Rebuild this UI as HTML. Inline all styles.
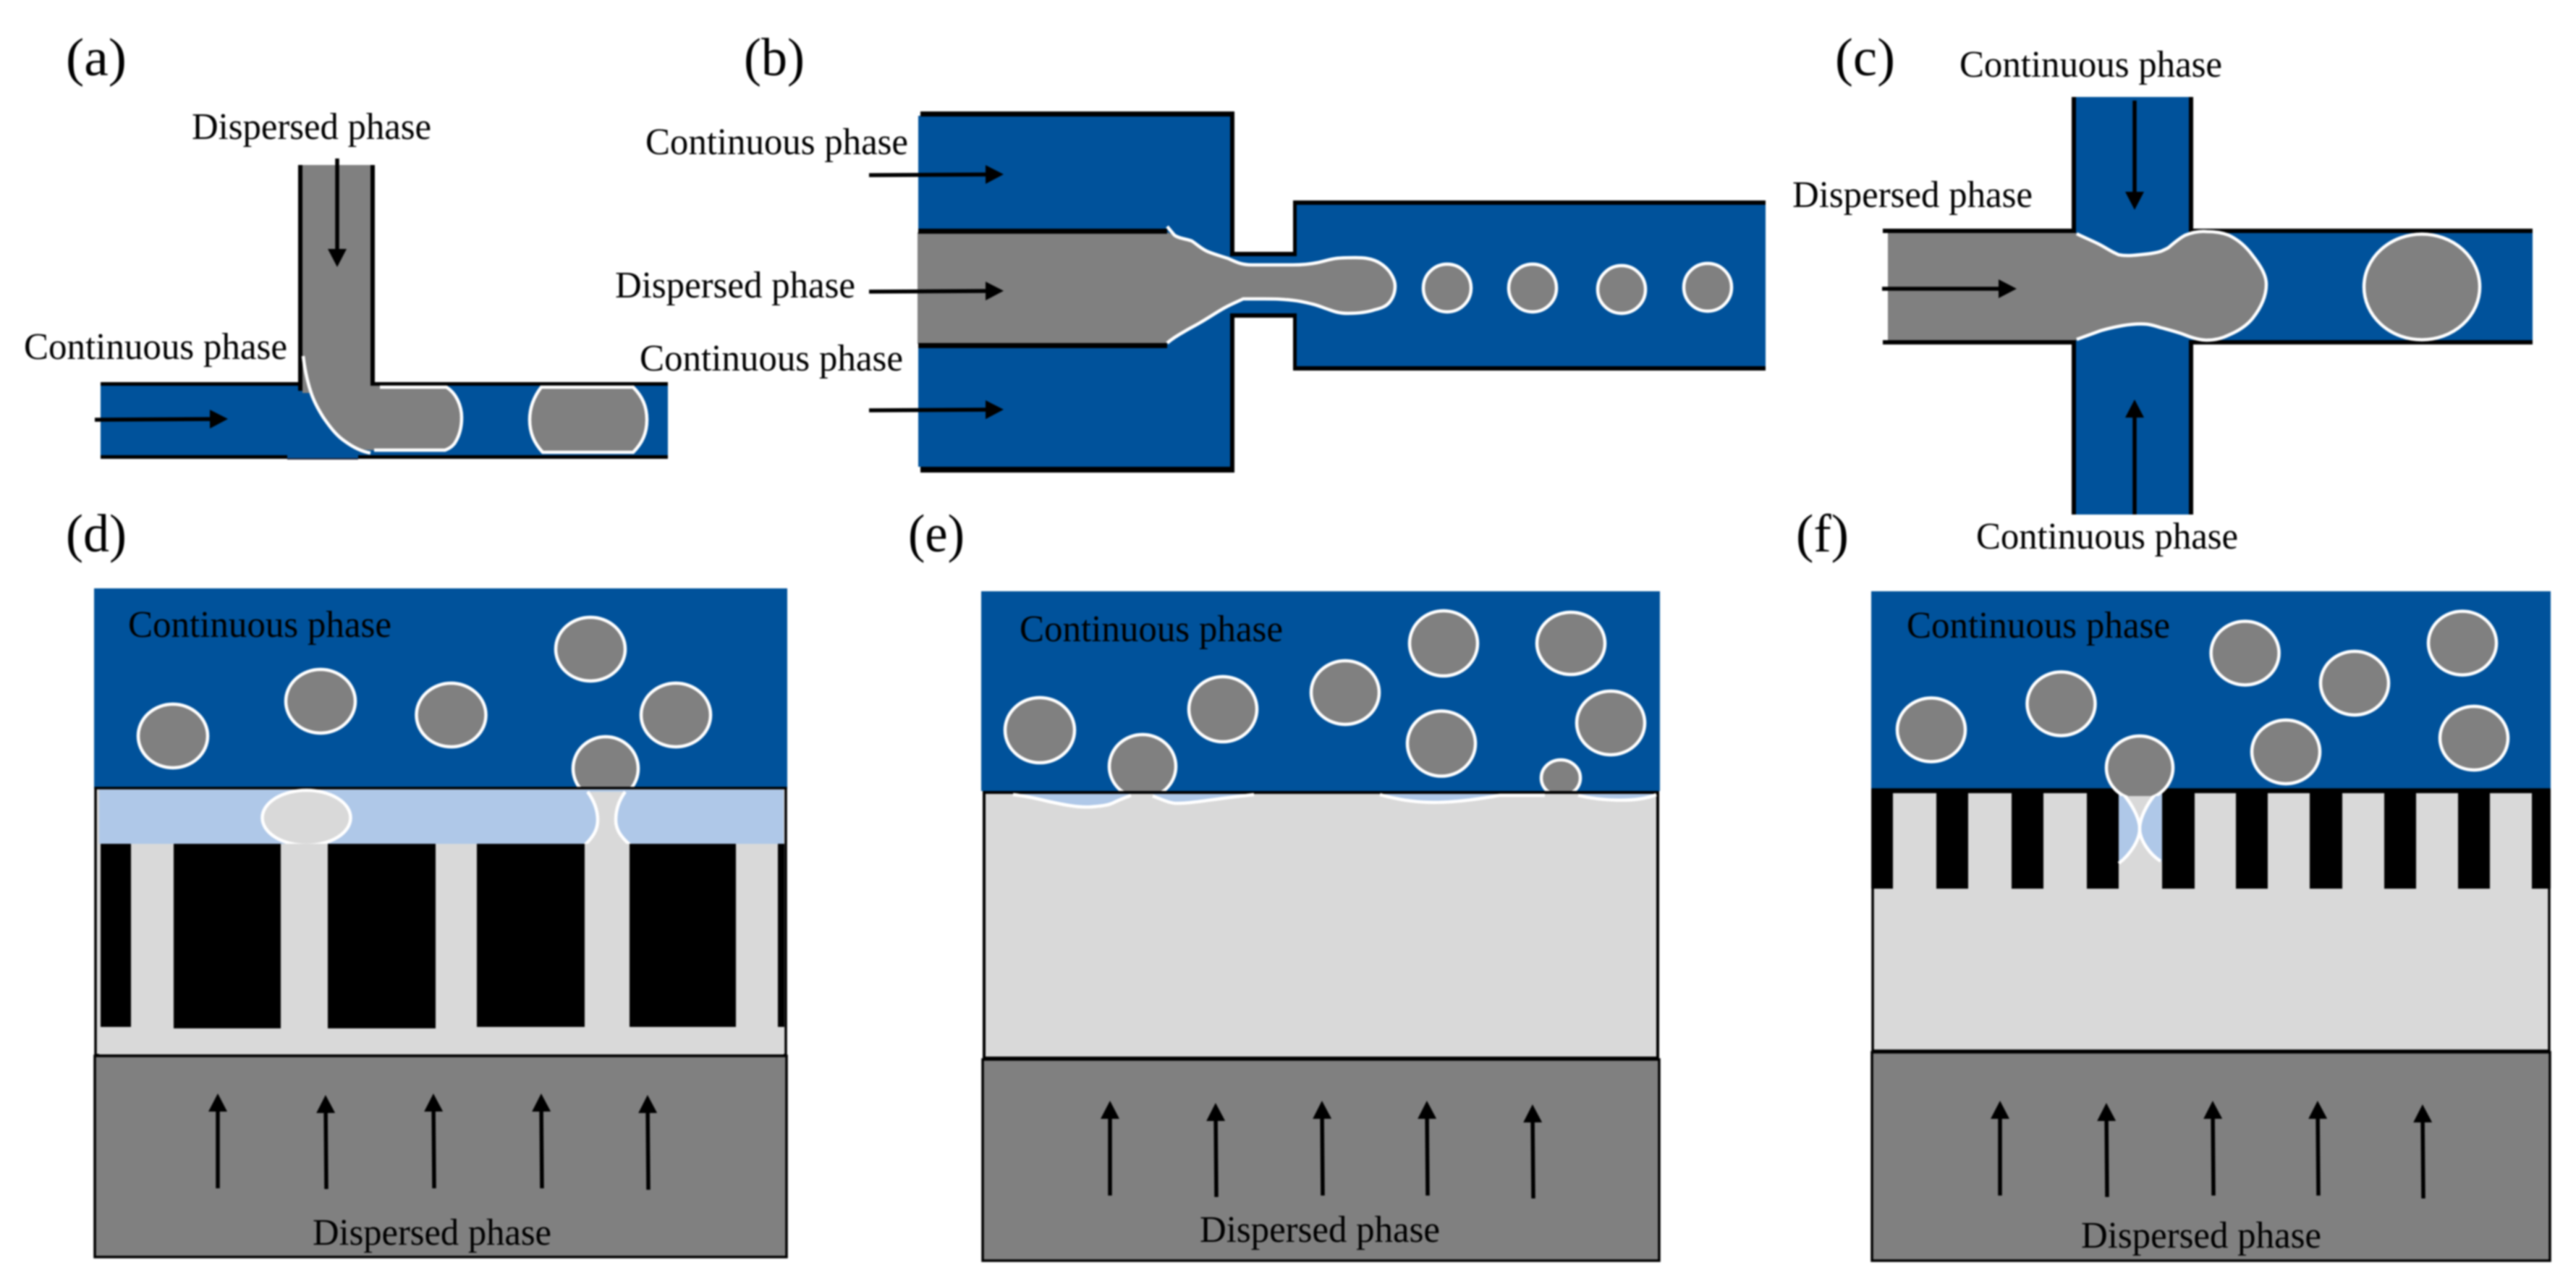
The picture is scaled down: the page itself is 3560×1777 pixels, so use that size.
<!DOCTYPE html>
<html><head><meta charset="utf-8"><style>
html,body{margin:0;padding:0;background:#fff;width:3560px;height:1777px;overflow:hidden}
svg{display:block;filter:blur(1px)}
text{font-family:"Liberation Serif",serif;fill:#000;font-size:52px}
.p{font-size:74px}
.d{fill:#808080;stroke:#fff;stroke-width:4.5}
.w{fill:none;stroke:#fff;stroke-width:4.5}
.a{stroke:#000;stroke-width:5.5;fill:none;marker-end:url(#h)}
.k{fill:#000}
</style></head><body>
<svg width="3560" height="1777" viewBox="0 0 3560 1777" xmlns="http://www.w3.org/2000/svg">
<defs>
<marker id="h" markerUnits="userSpaceOnUse" viewBox="0 0 25 26" refX="14" refY="13" markerWidth="25" markerHeight="26" orient="auto"><path d="M0 0L25 13L0 26Z" fill="#000"/></marker>
<clipPath id="cf"><rect x="2800" y="1000" width="320" height="100"/></clipPath>
</defs>
<rect width="3560" height="1777" fill="#fff"/>

<!-- (a) -->
<text class="p" x="91" y="104" textLength="84" lengthAdjust="spacingAndGlyphs">(a)</text>
<text x="265" y="192" textLength="331" lengthAdjust="spacingAndGlyphs">Dispersed phase</text>
<text x="33" y="496" textLength="364" lengthAdjust="spacingAndGlyphs">Continuous phase</text>
<rect x="139" y="533" width="784" height="101" fill="#00529B"/>
<rect class="k" x="139" y="528" width="276" height="5"/>
<rect class="k" x="515" y="528" width="408" height="5"/>
<rect class="k" x="139" y="629" width="258" height="5"/>
<rect x="397" y="633" width="98" height="2" fill="#223"/>
<rect class="k" x="495" y="629" width="428" height="5"/>
<rect class="k" x="412" y="228" width="6" height="312"/>
<rect class="k" x="512" y="228" width="6" height="305"/>
<path d="M418 228H512V533H617C630 543 638 560 638 577C638 592 634 604 628 613C624 618 620 620 615 622H512C500 622 490 618 477 610C465 602 456 590 447 577C440 566 434 555 430 543H418Z" fill="#808080"/>
<path class="w" d="M419 492C421 510 425 528 430 543C434 555 440 566 447 577C456 590 465 602 477 610C488 618 500 624 512 626"/>
<path class="w" d="M517 622H615C620 620 624 618 628 613C634 604 638 592 638 577C638 560 630 543 617 535H525"/>
<path class="d" d="M748 535H875C888 548 894 562 894 580C894 598 888 612 875 625H750C738 612 732 598 732 580C732 562 738 548 748 535Z"/>
<line class="a" x1="131" y1="580" x2="304" y2="579"/>
<line class="a" x1="466" y1="219" x2="466" y2="358"/>

<!-- (b) -->
<text class="p" x="1028" y="104" textLength="84" lengthAdjust="spacingAndGlyphs">(b)</text>
<text x="892" y="213" textLength="363" lengthAdjust="spacingAndGlyphs">Continuous phase</text>
<text x="850" y="411" textLength="332" lengthAdjust="spacingAndGlyphs">Dispersed phase</text>
<text x="884" y="512" textLength="364" lengthAdjust="spacingAndGlyphs">Continuous phase</text>
<rect x="1269" y="160" width="432" height="485" fill="#00529B"/>
<rect x="1792" y="283" width="648" height="223" fill="#00529B"/>
<rect x="1700" y="352" width="92" height="84" fill="#00529B"/>
<rect class="k" x="1272" y="154" width="434" height="7"/>
<rect class="k" x="1272" y="645" width="434" height="8"/>
<rect class="k" x="1700" y="154" width="6" height="200"/>
<rect class="k" x="1700" y="433" width="6" height="220"/>
<rect class="k" x="1700" y="348" width="92" height="6"/>
<rect class="k" x="1700" y="433" width="92" height="6"/>
<rect class="k" x="1787" y="277" width="5" height="77"/>
<rect class="k" x="1787" y="433" width="5" height="79"/>
<rect class="k" x="1787" y="277" width="653" height="6"/>
<rect class="k" x="1787" y="506" width="653" height="6"/>
<path d="M1268 321H1613L1623 325C1630 330 1640 330 1647 333C1655 338 1660 344 1670 348C1680 352 1688 354 1697 357C1708 362 1715 366 1730 366H1787C1800 366 1810 365 1820 363C1830 361 1838 358 1847 357C1856 356 1865 356 1873 356C1885 356 1892 357 1900 360C1910 364 1916 370 1920 375C1925 382 1928 388 1928 395C1928 405 1925 412 1920 418C1915 424 1908 426 1900 428C1888 432 1875 433 1863 433C1852 433 1845 431 1837 428C1828 425 1822 422 1813 420C1805 418 1797 416 1787 415C1770 413 1760 413 1747 413H1718C1710 417 1702 420 1693 425C1682 431 1672 438 1660 445C1652 450 1645 453 1637 458C1628 463 1620 468 1613 475H1268Z" fill="#808080"/>
<path class="w" d="M1613 313L1623 325C1630 330 1640 330 1647 333C1655 338 1660 344 1670 348C1680 352 1688 354 1697 357C1708 362 1715 366 1730 366H1787C1800 366 1810 365 1820 363C1830 361 1838 358 1847 357C1856 356 1865 356 1873 356C1885 356 1892 357 1900 360C1910 364 1916 370 1920 375C1925 382 1928 388 1928 395C1928 405 1925 412 1920 418C1915 424 1908 426 1900 428C1888 432 1875 433 1863 433C1852 433 1845 431 1837 428C1828 425 1822 422 1813 420C1805 418 1797 416 1787 415C1770 413 1760 413 1747 413H1718C1710 417 1702 420 1693 425C1682 431 1672 438 1660 445C1652 450 1645 453 1637 458C1628 463 1620 468 1613 474"/>
<rect class="k" x="1269" y="316" width="344" height="7"/>
<rect class="k" x="1269" y="474" width="344" height="7"/>
<ellipse class="d" cx="2000" cy="398" rx="33" ry="33"/>
<ellipse class="d" cx="2118" cy="398" rx="33" ry="33"/>
<ellipse class="d" cx="2241" cy="400" rx="33" ry="33"/>
<ellipse class="d" cx="2360" cy="397" rx="33" ry="33"/>
<line class="a" x1="1201" y1="242" x2="1376" y2="241"/>
<line class="a" x1="1201" y1="403" x2="1376" y2="402"/>
<line class="a" x1="1201" y1="567" x2="1376" y2="566"/>

<!-- (c) -->
<text class="p" x="2536" y="104" textLength="83" lengthAdjust="spacingAndGlyphs">(c)</text>
<text x="2708" y="106" textLength="363" lengthAdjust="spacingAndGlyphs">Continuous phase</text>
<text x="2477" y="286" textLength="332" lengthAdjust="spacingAndGlyphs">Dispersed phase</text>
<text x="2731" y="758" textLength="362" lengthAdjust="spacingAndGlyphs">Continuous phase</text>
<rect x="2869" y="134" width="156" height="577" fill="#00529B"/>
<rect x="3025" y="320" width="475" height="152" fill="#00529B"/>
<rect class="k" x="2863" y="134" width="6" height="188"/>
<rect class="k" x="3025" y="134" width="6" height="188"/>
<rect class="k" x="2863" y="470" width="6" height="241"/>
<rect class="k" x="3025" y="470" width="6" height="241"/>
<rect class="k" x="2602" y="316" width="267" height="6"/>
<rect class="k" x="3025" y="316" width="475" height="6"/>
<rect class="k" x="2602" y="470" width="267" height="6"/>
<rect class="k" x="3025" y="470" width="475" height="6"/>
<path d="M2609 322H2870C2880 328 2890 332 2900 337C2910 342 2918 348 2928 352C2938 354 2948 353 2957 352C2968 351 2978 350 2987 347C2991 345 2994 344 2997 342C3004 336 3012 329 3020 325C3030 321 3040 319 3050 320C3060 320 3070 321 3080 325C3095 332 3105 342 3113 353C3124 367 3132 380 3132 393C3132 410 3124 426 3113 440C3104 451 3092 458 3080 463C3070 468 3060 470 3050 470C3040 470 3030 467 3020 463C3010 459 2998 456 2987 453C2980 451 2975 449 2967 448C2955 447 2945 448 2933 450C2922 452 2913 454 2903 457C2892 461 2881 465 2870 470H2609Z" fill="#808080"/>
<path class="w" d="M2870 323C2880 328 2890 332 2900 337C2910 342 2918 348 2928 352C2938 354 2948 353 2957 352C2968 351 2978 350 2987 347C2991 345 2994 344 2997 342C3004 336 3012 329 3020 325C3030 321 3040 319 3050 320C3060 320 3070 321 3080 325C3095 332 3105 342 3113 353C3124 367 3132 380 3132 393C3132 410 3124 426 3113 440C3104 451 3092 458 3080 463C3070 468 3060 470 3050 470C3040 470 3030 467 3020 463C3010 459 2998 456 2987 453C2980 451 2975 449 2967 448C2955 447 2945 448 2933 450C2922 452 2913 454 2903 457C2892 461 2881 465 2870 469"/>
<ellipse class="d" cx="3347" cy="396.5" rx="80" ry="73"/>
<line class="a" x1="2950" y1="139" x2="2950" y2="279"/>
<line class="a" x1="2950" y1="711" x2="2950" y2="563"/>
<line class="a" x1="2601" y1="399" x2="2776" y2="399"/>

<!-- (d) -->
<text class="p" x="91" y="762" textLength="84" lengthAdjust="spacingAndGlyphs">(d)</text>
<rect x="130" y="813" width="958" height="277" fill="#00529B"/>
<ellipse class="d" cx="239" cy="1017" rx="48" ry="44"/>
<ellipse class="d" cx="443" cy="969" rx="48" ry="44"/>
<ellipse class="d" cx="623.5" cy="988" rx="48" ry="44"/>
<ellipse class="d" cx="816" cy="897" rx="48" ry="44"/>
<ellipse class="d" cx="934" cy="988" rx="48" ry="44"/>
<ellipse class="d" cx="837" cy="1062" rx="45" ry="44"/>
<rect x="132" y="1089" width="954" height="369" fill="#D9D9D9" stroke="#000" stroke-width="3.5"/>
<rect x="137" y="1091" width="946" height="75" fill="#AFC8E8"/>
<ellipse cx="423.5" cy="1130" rx="61" ry="38" fill="#D9D9D9" stroke="#fff" stroke-width="4.5"/>
<path d="M808 1168C818 1158 826 1148 826 1133C826 1118 820 1105 812 1094H864C856 1105 851 1118 851 1133C851 1148 860 1158 871 1168Z" fill="#D9D9D9"/>
<path class="w" d="M808 1168C818 1158 826 1148 826 1133C826 1118 820 1105 812 1094"/>
<path class="w" d="M871 1168C860 1158 851 1148 851 1133C851 1118 856 1105 864 1094"/>
<rect x="137" y="1166" width="946" height="291" fill="#D9D9D9"/>
<rect class="k" x="139" y="1166" width="42" height="253"/>
<rect class="k" x="240" y="1166" width="148" height="255"/>
<rect class="k" x="453" y="1166" width="149" height="255"/>
<rect class="k" x="659" y="1166" width="149" height="253"/>
<rect class="k" x="870" y="1166" width="147" height="253"/>
<rect class="k" x="1075" y="1166" width="9" height="253"/>
<rect x="131" y="1459" width="956" height="278" fill="#808080" stroke="#000" stroke-width="3.5"/>
<text x="177" y="880" textLength="364" lengthAdjust="spacingAndGlyphs">Continuous phase</text>
<text x="432" y="1720" textLength="330" lengthAdjust="spacingAndGlyphs">Dispersed phase</text>
<line class="a" x1="301" y1="1642" x2="301" y2="1522"/>
<line class="a" x1="451" y1="1643" x2="450" y2="1524"/>
<line class="a" x1="600" y1="1642" x2="599" y2="1522"/>
<line class="a" x1="749" y1="1642" x2="748" y2="1522"/>
<line class="a" x1="896" y1="1644" x2="895" y2="1524"/>

<!-- (e) -->
<text class="p" x="1255" y="762" textLength="78" lengthAdjust="spacingAndGlyphs">(e)</text>
<rect x="1356" y="817" width="938" height="276" fill="#00529B"/>
<ellipse class="d" cx="1437" cy="1009" rx="48" ry="45"/>
<ellipse class="d" cx="1690" cy="980" rx="47" ry="45"/>
<ellipse class="d" cx="1859" cy="957" rx="47" ry="44"/>
<ellipse class="d" cx="1995" cy="889" rx="47" ry="45"/>
<ellipse class="d" cx="2171" cy="889" rx="47" ry="43"/>
<ellipse class="d" cx="1992" cy="1027.5" rx="47" ry="45"/>
<ellipse class="d" cx="2226" cy="999" rx="47" ry="44"/>
<ellipse class="d" cx="1579" cy="1059" rx="46" ry="44"/>
<ellipse class="d" cx="2157" cy="1075" rx="27" ry="25"/>
<rect x="1360" y="1095" width="931" height="367" fill="#D9D9D9" stroke="#000" stroke-width="4"/>
<path d="M1400 1097C1420 1100 1435 1104 1447 1107C1470 1112 1490 1116 1507 1115C1520 1114 1530 1113 1537 1110C1545 1106 1555 1102 1563 1097Z" fill="#AFC8E8"/>
<path class="w" d="M1400 1098C1420 1100 1435 1104 1447 1107C1470 1112 1490 1116 1507 1115C1520 1114 1530 1113 1537 1110C1545 1106 1555 1102 1563 1099"/>
<path d="M1593 1097C1605 1104 1615 1110 1627 1110C1650 1110 1690 1102 1733 1097Z" fill="#AFC8E8"/>
<path class="w" d="M1593 1100C1605 1104 1615 1110 1627 1110C1650 1110 1690 1102 1733 1098"/>
<path d="M1907 1097C1950 1110 1990 1114 2072 1097Z" fill="#AFC8E8"/>
<path class="w" d="M1907 1098C1950 1110 1990 1114 2072 1099"/>
<path d="M2181 1097C2210 1106 2260 1110 2289 1097Z" fill="#AFC8E8"/>
<path class="w" d="M2181 1099C2210 1106 2260 1110 2289 1098"/>
<path class="w" d="M2072 1099H2135"/>
<rect x="1358" y="1464" width="935" height="278" fill="#808080" stroke="#000" stroke-width="3.5"/>
<text x="1409" y="886" textLength="364" lengthAdjust="spacingAndGlyphs">Continuous phase</text>
<text x="1658" y="1716" textLength="332" lengthAdjust="spacingAndGlyphs">Dispersed phase</text>
<line class="a" x1="1534" y1="1652" x2="1534" y2="1532"/>
<line class="a" x1="1681" y1="1654" x2="1680" y2="1535"/>
<line class="a" x1="1828" y1="1652" x2="1827" y2="1532"/>
<line class="a" x1="1973" y1="1652" x2="1972" y2="1532"/>
<line class="a" x1="2119" y1="1656" x2="2118" y2="1537"/>

<!-- (f) -->
<text class="p" x="2482" y="762" textLength="73" lengthAdjust="spacingAndGlyphs">(f)</text>
<rect x="2586" y="817" width="939" height="274" fill="#00529B"/>
<rect x="2588" y="1091" width="935" height="361" fill="#D9D9D9" stroke="#000" stroke-width="3.5"/>
<rect class="k" x="2586" y="1091" width="939" height="5"/>
<rect class="k" x="2586" y="1091" width="30" height="137"/>
<rect class="k" x="2676" y="1091" width="44" height="137"/>
<rect class="k" x="2780" y="1091" width="44" height="137"/>
<rect class="k" x="2884" y="1091" width="44" height="137"/>
<rect class="k" x="2988" y="1091" width="45" height="137"/>
<rect class="k" x="3090" y="1091" width="44" height="137"/>
<rect class="k" x="3192" y="1091" width="45" height="137"/>
<rect class="k" x="3295" y="1091" width="44" height="137"/>
<rect class="k" x="3397" y="1091" width="44" height="137"/>
<rect class="k" x="3499" y="1091" width="26" height="137"/>
<path d="M2928 1096H2935C2945 1110 2957 1130 2957 1145C2957 1160 2945 1180 2928 1193Z" fill="#AFC8E8"/>
<path d="M2988 1096H2978C2968 1110 2957 1130 2957 1145C2957 1160 2970 1180 2988 1191Z" fill="#AFC8E8"/>
<path class="w" d="M2935 1098C2945 1110 2957 1130 2957 1145C2957 1160 2945 1180 2928 1193"/>
<path class="w" d="M2978 1098C2968 1110 2957 1130 2957 1145C2957 1160 2970 1180 2986 1190"/>
<ellipse class="d" cx="2669" cy="1008.5" rx="47" ry="44"/>
<ellipse class="d" cx="2848.5" cy="972.5" rx="47" ry="44"/>
<ellipse class="d" cx="3102.6" cy="902.5" rx="47" ry="44"/>
<ellipse class="d" cx="3254" cy="944" rx="47" ry="44"/>
<ellipse class="d" cx="3403" cy="888.6" rx="47" ry="44"/>
<ellipse class="d" cx="3159" cy="1039" rx="47" ry="44"/>
<ellipse class="d" cx="3419" cy="1020" rx="47" ry="44"/>
<g clip-path="url(#cf)"><ellipse class="d" cx="2957" cy="1061" rx="46" ry="44"/></g>
<rect x="2587" y="1454" width="937" height="288" fill="#808080" stroke="#000" stroke-width="3.5"/>
<text x="2635" y="881" textLength="364" lengthAdjust="spacingAndGlyphs">Continuous phase</text>
<text x="2876" y="1724" textLength="332" lengthAdjust="spacingAndGlyphs">Dispersed phase</text>
<line class="a" x1="2764" y1="1652" x2="2764" y2="1532"/>
<line class="a" x1="2912" y1="1654" x2="2911" y2="1535"/>
<line class="a" x1="3059" y1="1652" x2="3058" y2="1532"/>
<line class="a" x1="3204" y1="1652" x2="3203" y2="1532"/>
<line class="a" x1="3349" y1="1656" x2="3348" y2="1537"/>
</svg>
</body></html>
